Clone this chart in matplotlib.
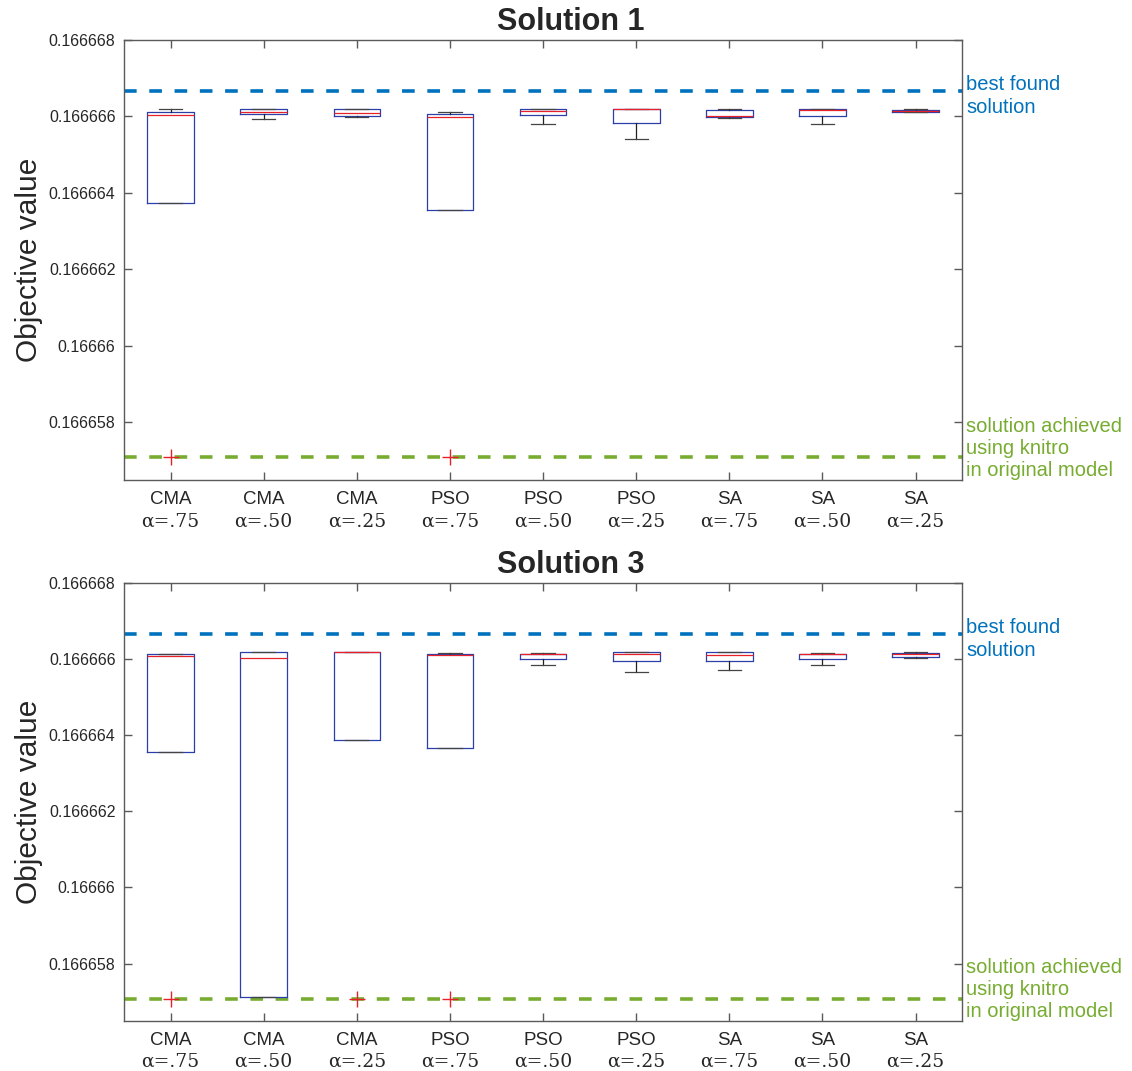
import matplotlib.pyplot as plt
from matplotlib.ticker import FixedLocator, FuncFormatter
from matplotlib.transforms import blended_transform_factory

methods = ["CMA", "CMA", "CMA", "PSO", "PSO", "PSO", "SA", "SA", "SA"]
alphas = ["α=.75", "α=.50", "α=.25", "α=.75", "α=.50", "α=.25", "α=.75", "α=.50", "α=.25"]

best_found = 0.16666667
knitro = 0.16665708

# Solution 1 box statistics
s1_whishi = [0.16666619, 0.16666619, 0.16666620, 0.16666611, 0.16666620,
             0.16666620, 0.16666619, 0.16666620, 0.16666619]
s1_q3 = [0.16666611, 0.16666619, 0.16666619, 0.16666606, 0.16666619,
         0.16666619, 0.16666616, 0.16666619, 0.16666616]
s1_med = [0.16666604, 0.16666612, 0.16666610, 0.16666599, 0.16666615,
          0.16666619, 0.16666600, 0.16666617, 0.16666613]
s1_q1 = [0.16666374, 0.16666606, 0.16666601, 0.16666354, 0.16666603,
         0.16666582, 0.16666598, 0.16666602, 0.16666611]
s1_whislo = [0.16666374, 0.16666592, 0.16666598, 0.16666354, 0.16666581,
             0.16666541, 0.16666595, 0.16666581, 0.16666611]
s1_fliers = [[0.16665708], [], [], [0.16665708], [], [], [], [], []]

# Solution 3 box statistics
s3_whishi = [0.16666614, 0.16666618, 0.16666618, 0.16666616, 0.16666616,
             0.16666618, 0.16666618, 0.16666616, 0.16666619]
s3_q3 = [0.16666612, 0.16666618, 0.16666618, 0.16666613, 0.16666613,
         0.16666618, 0.16666618, 0.16666613, 0.16666617]
s3_med = [0.16666608, 0.16666604, 0.16666618, 0.16666611, 0.16666612,
          0.16666613, 0.16666610, 0.16666612, 0.16666613]
s3_q1 = [0.16666357, 0.16665711, 0.16666387, 0.16666366, 0.16666601,
         0.16666596, 0.16666596, 0.16666601, 0.16666605]
s3_whislo = [0.16666357, 0.16665711, 0.16666387, 0.16666366, 0.16666584,
             0.16666565, 0.16666571, 0.16666584, 0.16666604]
s3_fliers = [[0.16665708], [], [0.16665708], [0.16665708], [], [], [], [], []]

yticks = [0.166658, 0.16666, 0.166662, 0.166664, 0.166666, 0.166668]

BLUE = "#0072BD"
GREEN = "#77AC30"
AXC = "#5a5a5a"


def make_stats(whislo, q1, med, q3, whishi, fliers):
    return [dict(whislo=a, q1=b, med=c, q3=d, whishi=e, fliers=f)
            for a, b, c, d, e, f in zip(whislo, q1, med, q3, whishi, fliers)]


def draw_panel(ax, stats, title):
    pos = list(range(1, len(stats) + 1))
    ax.bxp(stats, positions=pos, widths=0.5, showfliers=True,
           boxprops=dict(color="#2b3fa8", linewidth=0.9),
           medianprops=dict(color="#e8202a", linewidth=0.9),
           whiskerprops=dict(color="#222222", linewidth=0.9),
           capprops=dict(color="#444444", linewidth=0.9),
           flierprops=dict(marker="+", markeredgecolor="#e8202a",
                           markersize=11, markeredgewidth=1.0, linestyle="none"))
    ax.set_xlim(0.5, len(stats) + 0.5)
    ax.set_ylim(0.16665649, 0.166668)
    hl = ax.axhline(best_found, color=BLUE, linewidth=2.6, zorder=1)
    hl.set_dashes((3.5, 3.5))
    gl = ax.axhline(knitro, color=GREEN, linewidth=2.6, zorder=1)
    gl.set_dashes((3.5, 3.5))

    ax.yaxis.set_major_locator(FixedLocator(yticks))
    ax.yaxis.set_major_formatter(FuncFormatter(lambda v, p: f"{v:.6g}"))
    ax.set_xticks(pos)
    ax.set_xticklabels(methods, fontsize=13.5, color="#262626")
    tx = blended_transform_factory(ax.transData, ax.transAxes)
    for x, a in zip(pos, alphas):
        ax.text(x, -0.073, a, transform=tx, ha="center", va="top",
                fontsize=13.5, family="DejaVu Serif", color="#262626")
    ax.tick_params(direction="in", top=True, right=True, length=6,
                   color=AXC, width=1)
    ax.tick_params(axis="y", labelsize=11.5, labelcolor="#262626", pad=6)
    ax.tick_params(axis="x", pad=8)
    for sp in ax.spines.values():
        sp.set_color(AXC)
        sp.set_linewidth(1)
    ax.set_ylabel("Objective value", fontsize=21.5, color="#262626", labelpad=4)
    ax.set_title(title, fontsize=22, fontweight="bold", color="#262626",
                 pad=7, x=0.533)

    ty = blended_transform_factory(ax.transAxes, ax.transData)
    ax.annotate("best found\nsolution", xy=(1.0, best_found), xycoords=ty,
                xytext=(3, -4), textcoords="offset points",
                color=BLUE, fontsize=14.5, va="center", ha="left", linespacing=1.25)
    ax.annotate("solution achieved\nusing knitro\nin original model",
                xy=(1.0, knitro), xycoords=ty,
                xytext=(3, 6.5), textcoords="offset points",
                color=GREEN, fontsize=14.5, va="center", ha="left", linespacing=1.2)


plt.rcParams["font.family"] = ["Liberation Sans", "DejaVu Sans"]
fig = plt.figure(figsize=(11.32, 10.71), dpi=100)
ax1 = fig.add_axes([0.1095, 0.5518, 0.7405, 0.4109])
ax2 = fig.add_axes([0.1095, 0.0467, 0.7405, 0.4090])

draw_panel(ax1, make_stats(s1_whislo, s1_q1, s1_med, s1_q3, s1_whishi, s1_fliers),
           "Solution 1")
draw_panel(ax2, make_stats(s3_whislo, s3_q1, s3_med, s3_q3, s3_whishi, s3_fliers),
           "Solution 3")

fig.savefig("out.png", dpi=100)
